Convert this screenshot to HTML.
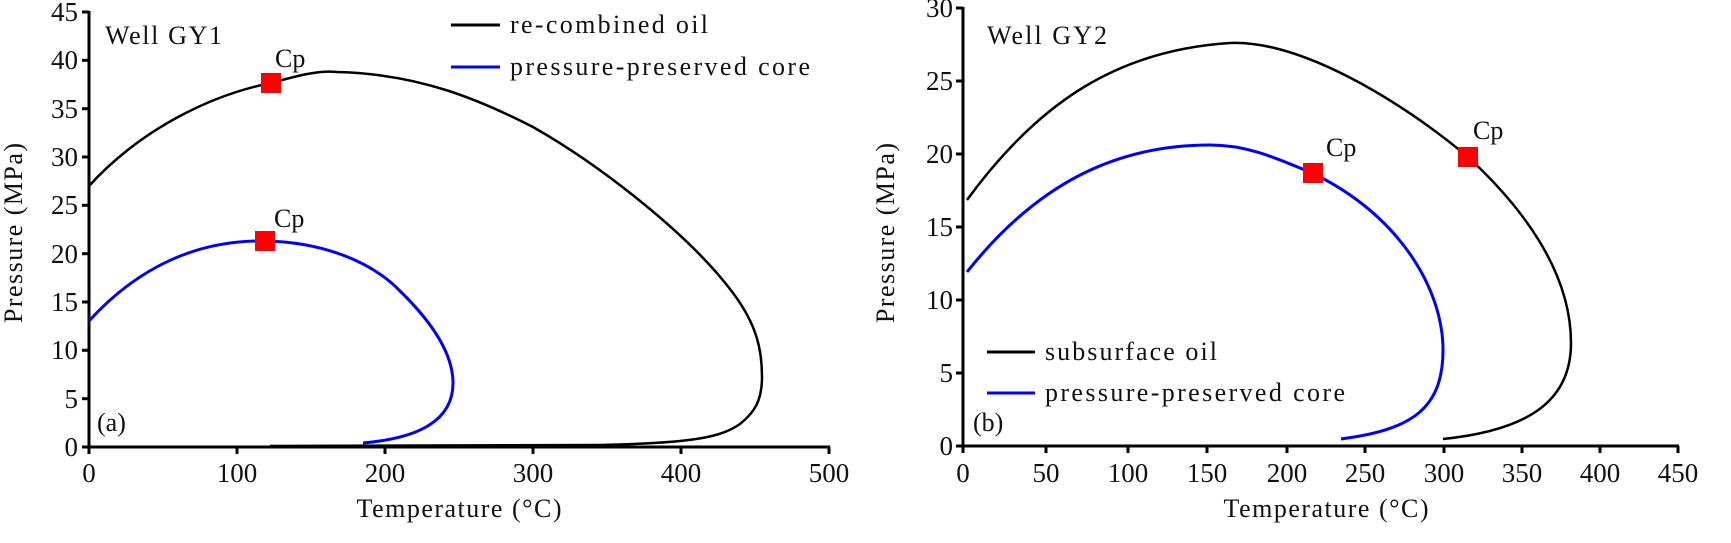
<!DOCTYPE html>
<html><head><meta charset="utf-8"><style>
html,body{margin:0;padding:0;background:#fff;}
svg{display:block;}
text{font-family:"Liberation Serif",serif;fill:#111;}
</style></head><body>
<svg width="1731" height="543" viewBox="0 0 1731 543">
<!-- LEFT CHART -->
<g stroke="#000" stroke-width="3" fill="none">
<line x1="89" y1="11" x2="89" y2="448"/>
<line x1="88" y1="447" x2="830" y2="447"/>
<line x1="82" y1="12" x2="89" y2="12"/>
<line x1="82" y1="60.3" x2="89" y2="60.3"/>
<line x1="82" y1="108.7" x2="89" y2="108.7"/>
<line x1="82" y1="157" x2="89" y2="157"/>
<line x1="82" y1="205.3" x2="89" y2="205.3"/>
<line x1="82" y1="253.7" x2="89" y2="253.7"/>
<line x1="82" y1="302" x2="89" y2="302"/>
<line x1="82" y1="350.3" x2="89" y2="350.3"/>
<line x1="82" y1="398.7" x2="89" y2="398.7"/>
<line x1="82" y1="447" x2="89" y2="447"/>
<line x1="89" y1="447" x2="89" y2="454"/>
<line x1="237" y1="447" x2="237" y2="454"/>
<line x1="385" y1="447" x2="385" y2="454"/>
<line x1="533" y1="447" x2="533" y2="454"/>
<line x1="681" y1="447" x2="681" y2="454"/>
<line x1="829" y1="447" x2="829" y2="454"/>
</g>
<g font-size="27" text-anchor="end">
<text x="78" y="21">45</text><text x="78" y="69">40</text><text x="78" y="118">35</text>
<text x="78" y="166">30</text><text x="78" y="214">25</text><text x="78" y="263">20</text>
<text x="78" y="311">15</text><text x="78" y="359">10</text><text x="78" y="408">5</text>
<text x="78" y="456">0</text>
</g>
<g font-size="27" text-anchor="middle">
<text x="89" y="482">0</text><text x="237" y="482">100</text><text x="385" y="482">200</text>
<text x="533" y="482">300</text><text x="681" y="482">400</text><text x="829" y="482">500</text>
</g>
<text x="459" y="517" font-size="26" text-anchor="middle" textLength="205">Temperature (°C)</text>
<text transform="translate(22,233) rotate(-90)" font-size="26" text-anchor="middle" textLength="180">Pressure (MPa)</text>
<text x="105" y="44" font-size="26" textLength="117">Well GY1</text>
<text x="97" y="431" font-size="26">(a)</text>
<line x1="451" y1="25" x2="500" y2="25" stroke="#000" stroke-width="3"/>
<line x1="451" y1="67" x2="500" y2="67" stroke="#0000ff" stroke-width="3"/>
<text x="510" y="33" font-size="26" textLength="198">re-combined oil</text>
<text x="510" y="75" font-size="26" textLength="300">pressure-preserved core</text>
<path d="M89,186 C140,130 210,95 271,83 C300,75 320,70 337,72 C420,74 480,100 533,127 C600,165 690,235 733,293 C757,325 762,350 762,377 C762,400 755,412 740,424 C720,438 690,443 600,445 L270,446" stroke="#000" stroke-width="2.5" fill="none"/>
<path d="M89,321 C140,265 200,240 265,241 C320,242 370,260 400,291 C440,330 453,360 453,383 C453,420 420,438 363,443" stroke="#0000ff" stroke-width="3" fill="none"/>
<rect x="261" y="73" width="20" height="20" fill="#ff0000"/>
<rect x="255" y="231" width="20" height="20" fill="#ff0000"/>
<text x="275" y="67" font-size="26">Cp</text>
<text x="274" y="227" font-size="26">Cp</text>

<!-- RIGHT CHART -->
<g stroke="#000" stroke-width="3" fill="none">
<line x1="963" y1="7" x2="963" y2="447"/>
<line x1="962" y1="446" x2="1679" y2="446"/>
<line x1="956" y1="8" x2="963" y2="8"/>
<line x1="956" y1="81" x2="963" y2="81"/>
<line x1="956" y1="154" x2="963" y2="154"/>
<line x1="956" y1="227" x2="963" y2="227"/>
<line x1="956" y1="300" x2="963" y2="300"/>
<line x1="956" y1="373" x2="963" y2="373"/>
<line x1="956" y1="446" x2="963" y2="446"/>
<line x1="963" y1="446" x2="963" y2="453"/>
<line x1="1046" y1="446" x2="1046" y2="453"/>
<line x1="1128" y1="446" x2="1128" y2="453"/>
<line x1="1207" y1="446" x2="1207" y2="453"/>
<line x1="1287" y1="446" x2="1287" y2="453"/>
<line x1="1365" y1="446" x2="1365" y2="453"/>
<line x1="1444" y1="446" x2="1444" y2="453"/>
<line x1="1522" y1="446" x2="1522" y2="453"/>
<line x1="1600" y1="446" x2="1600" y2="453"/>
<line x1="1678" y1="446" x2="1678" y2="453"/>
</g>
<g font-size="27" text-anchor="end">
<text x="953" y="17">30</text><text x="953" y="90">25</text><text x="953" y="163">20</text>
<text x="953" y="236">15</text><text x="953" y="309">10</text><text x="953" y="382">5</text>
<text x="953" y="455">0</text>
</g>
<g font-size="27" text-anchor="middle">
<text x="963" y="482">0</text><text x="1046" y="482">50</text><text x="1128" y="482">100</text>
<text x="1207" y="482">150</text><text x="1287" y="482">200</text><text x="1365" y="482">250</text>
<text x="1444" y="482">300</text><text x="1522" y="482">350</text><text x="1600" y="482">400</text>
<text x="1678" y="482">450</text>
</g>
<text x="1326" y="517" font-size="26" text-anchor="middle" textLength="205">Temperature (°C)</text>
<text transform="translate(894,233) rotate(-90)" font-size="26" text-anchor="middle" textLength="180">Pressure (MPa)</text>
<text x="987" y="44" font-size="26" textLength="120">Well GY2</text>
<text x="973" y="431" font-size="26">(b)</text>
<line x1="987" y1="352" x2="1035" y2="352" stroke="#000" stroke-width="3"/>
<line x1="987" y1="393" x2="1035" y2="393" stroke="#0000ff" stroke-width="3"/>
<text x="1045" y="360" font-size="26" textLength="172">subsurface oil</text>
<text x="1045" y="401" font-size="26" textLength="300">pressure-preserved core</text>
<path d="M967,200 C1040,100 1120,50 1230,43 C1300,40 1400,100 1468,157 C1520,205 1571,270 1571,343 C1571,400 1530,430 1443,439" stroke="#000" stroke-width="2.5" fill="none"/>
<path d="M967,272 C1040,180 1120,145 1210,145 C1250,145 1280,160 1312,173 C1400,215 1443,290 1443,350 C1443,410 1410,430 1341,439" stroke="#0000ff" stroke-width="3" fill="none"/>
<rect x="1458" y="147" width="20" height="20" fill="#ff0000"/>
<rect x="1303" y="163" width="20" height="20" fill="#ff0000"/>
<text x="1473" y="139" font-size="26">Cp</text>
<text x="1326" y="156" font-size="26">Cp</text>
</svg>
</body></html>
